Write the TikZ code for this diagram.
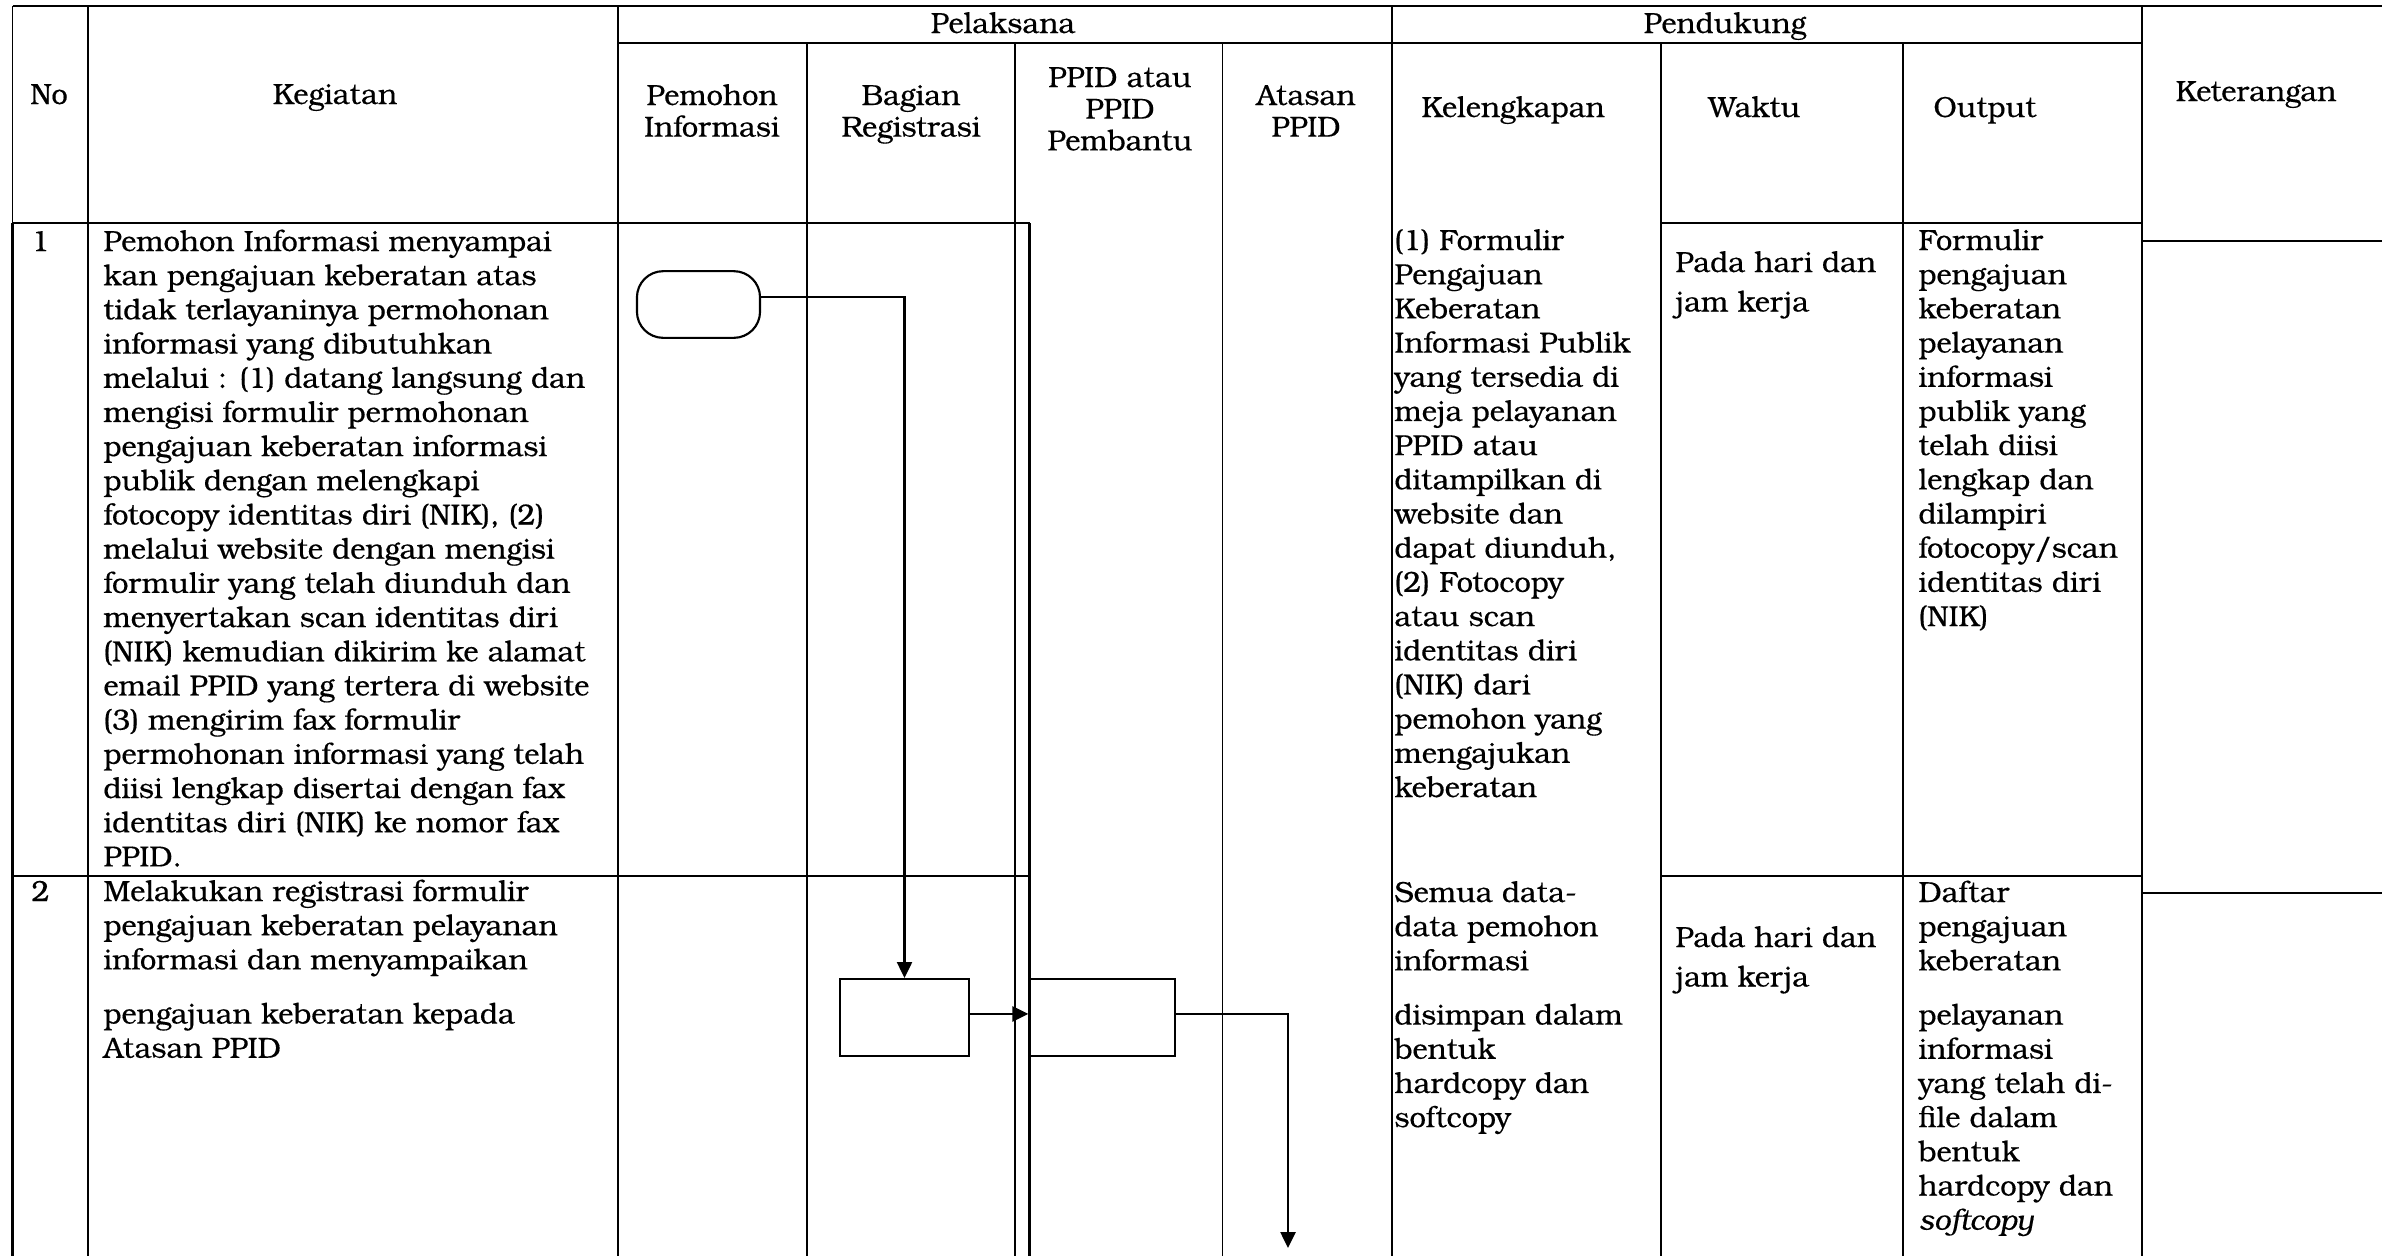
\documentclass[tikz,border=0pt]{standalone}
\usepackage{fontspec}
\setmainfont[FakeBold=0.4]{TeX Gyre Bonum}
\usetikzlibrary{arrows.meta}
\newcommand\fs{\fontsize{12.2}{14.36}\selectfont}
\newcommand\fsw{\fontsize{12.2}{16.6}\selectfont}
\newcommand\fsh{\fontsize{12.2}{13.3}\selectfont}
\newcommand\lft[1]{\begin{minipage}[t]{300pt}\raggedright #1\end{minipage}}
\newcommand\ctr[1]{\begin{minipage}[t]{90pt}\centering #1\end{minipage}}
\begin{document}
\begin{tikzpicture}[x=0.42pt,y=-0.42pt,
  thinl/.style={line width=0.7pt},
  rowl/.style={line width=1pt},
  txt/.style={anchor=base west, inner sep=0pt},
  hdr/.style={anchor=base, inner sep=0pt},
  term/.style={draw, line width=0.9pt, rounded corners=11pt, minimum width=51.7pt, minimum height=28pt, inner sep=0pt},
  proc/.style={draw, line width=0.9pt, minimum width=54.2pt, minimum height=32.3pt, inner sep=0pt},
  arr/.style={line width=1pt, -{Triangle[length=6.7pt,width=6.3pt]}}]
\useasboundingbox (0,0) rectangle (2382,1256);
\fill[white] (0,0) rectangle (2382,1256);
% table grid
\draw[thinl] (12.5,6) -- (2382,6);
\draw[thinl] (618,43) -- (2142,43);
\draw[thinl] (12.5,6) -- (12.5,223);
\draw[rowl] (12.5,223) -- (12.5,1256);
\draw[thinl] (88,6) -- (88,223);
\draw[rowl] (88,223) -- (88,1256);
\draw[thinl] (618,6) -- (618,1256);
\draw[thinl] (807,43) -- (807,1256);
\draw[thinl] (1015,43) -- (1015,1256);
\draw[rowl] (1029.5,223) -- (1029.5,1256);
\draw[thinl] (1222.5,43) -- (1222.5,1256);
\draw[thinl] (1392,6) -- (1392,1256);
\draw[thinl] (1661,43) -- (1661,1256);
\draw[thinl] (1903,43) -- (1903,1256);
\draw[thinl] (2142,6) -- (2142,1256);
\draw[rowl] (12.5,223) -- (1029.5,223);
\draw[rowl] (1661,223) -- (2142,223);
\draw[thinl] (2142,241) -- (2382,241);
\draw[rowl] (12.5,876) -- (1029.5,876);
\draw[rowl] (1661,876) -- (2142,876);
\draw[thinl] (2142,893) -- (2382,893);
% headers
\node[hdr] (hno) at (49,104) {\fs No};
\node[hdr] (hkeg) at (335,104) {\fs Kegiatan};
\node[hdr] (hpel) at (1003,33) {\fs Pelaksana};
\node[hdr] (hpen) at (1725,33) {\fs Pendukung};
\node[hdr] (hpem) at (712,105) {\ctr{\fsh Pemohon\\Informasi}};
\node[hdr] (hbag) at (911,105) {\ctr{\fsh Bagian\\Registrasi}};
\node[hdr] (hppid) at (1120,87) {\ctr{\fsh PPID atau\\PPID\\Pembantu}};
\node[hdr] (hata) at (1306,105) {\ctr{\fsh Atasan\\PPID}};
\node[txt] (hkel) at (1421,117) {\fs Kelengkapan};
\node[txt] (hwak) at (1708,117) {\fs Waktu};
\node[txt] (hout) at (1933,117) {\fs Output};
\node[hdr] (hket) at (2256,101) {\fs Keterangan};
% row 1
\node[txt] (n1) at (31,251) {\fs 1};
\node[txt] (k1) at (103,251) {\lft{\fs Pemohon Informasi menyampai\\
kan pengajuan keberatan atas\\
tidak terlayaninya permohonan\\
informasi yang dibutuhkan\\
melalui : (1) datang langsung dan\\
mengisi formulir permohonan\\
pengajuan keberatan informasi\\
publik dengan melengkapi\\
fotocopy identitas diri (NIK), (2)\\
melalui website dengan mengisi\\
formulir yang telah diunduh dan\\
menyertakan scan identitas diri\\
(NIK) kemudian dikirim ke alamat\\
email PPID yang tertera di website\\
(3) mengirim fax formulir\\
permohonan informasi yang telah\\
diisi lengkap disertai dengan fax\\
identitas diri (NIK) ke nomor fax\\
PPID.}};
\node[txt] (kel1) at (1394,250) {\lft{\fs (1) Formulir\\
Pengajuan\\
Keberatan\\
Informasi Publik\\
yang tersedia di\\
meja pelayanan\\
PPID atau\\
ditampilkan di\\
website dan\\
dapat diunduh,\\
(2) Fotocopy\\
atau scan\\
identitas diri\\
(NIK) dari\\
pemohon yang\\
mengajukan\\
keberatan}};
\node[txt] (w1) at (1675,272) {\lft{\fsw Pada hari dan\\jam kerja}};
\node[txt] (o1) at (1918,250) {\lft{\fs Formulir\\
pengajuan\\
keberatan\\
pelayanan\\
informasi\\
publik yang\\
telah diisi\\
lengkap dan\\
dilampiri\\
fotocopy/scan\\
identitas diri\\
(NIK)}};
% row 2
\node[txt] (n2) at (31,901) {\fs 2};
\node[txt] (k2) at (103,901) {\lft{\fs Melakukan registrasi formulir\\
pengajuan keberatan pelayanan\\
informasi dan menyampaikan\\[8.4pt]
pengajuan keberatan kepada\\
Atasan PPID}};
\node[txt] (kel2) at (1394,902) {\lft{\fs Semua data-\\
data pemohon\\
informasi\\[8.4pt]
disimpan dalam\\
bentuk\\
hardcopy dan\\
softcopy}};
\node[txt] (w2) at (1675,947) {\lft{\fsw Pada hari dan\\jam kerja}};
\node[txt] (o2) at (1918,902) {\lft{\fs Daftar\\
pengajuan\\
keberatan\\[8.4pt]
pelayanan\\
informasi\\
yang telah di-\\
file dalam\\
bentuk\\
hardcopy dan\\
\textit{softcopy}}};
% flow
\node[term] (start) at (698.5,304.5) {};
\node[proc] (reg) at (904.5,1017.5) {};
\node[proc, minimum width=61.1pt] (fwd) at (1102.2,1017.5) {};
\coordinate (down) at (1288,1248);
\draw[arr] ([yshift=3.2pt]start.east) -| (reg.north);
\draw[arr] ([yshift=1.5pt]reg.east) -- ([yshift=1.5pt]fwd.west);
\draw[arr] ([yshift=1.5pt]fwd.east) -| (down);
\end{tikzpicture}
\end{document}
